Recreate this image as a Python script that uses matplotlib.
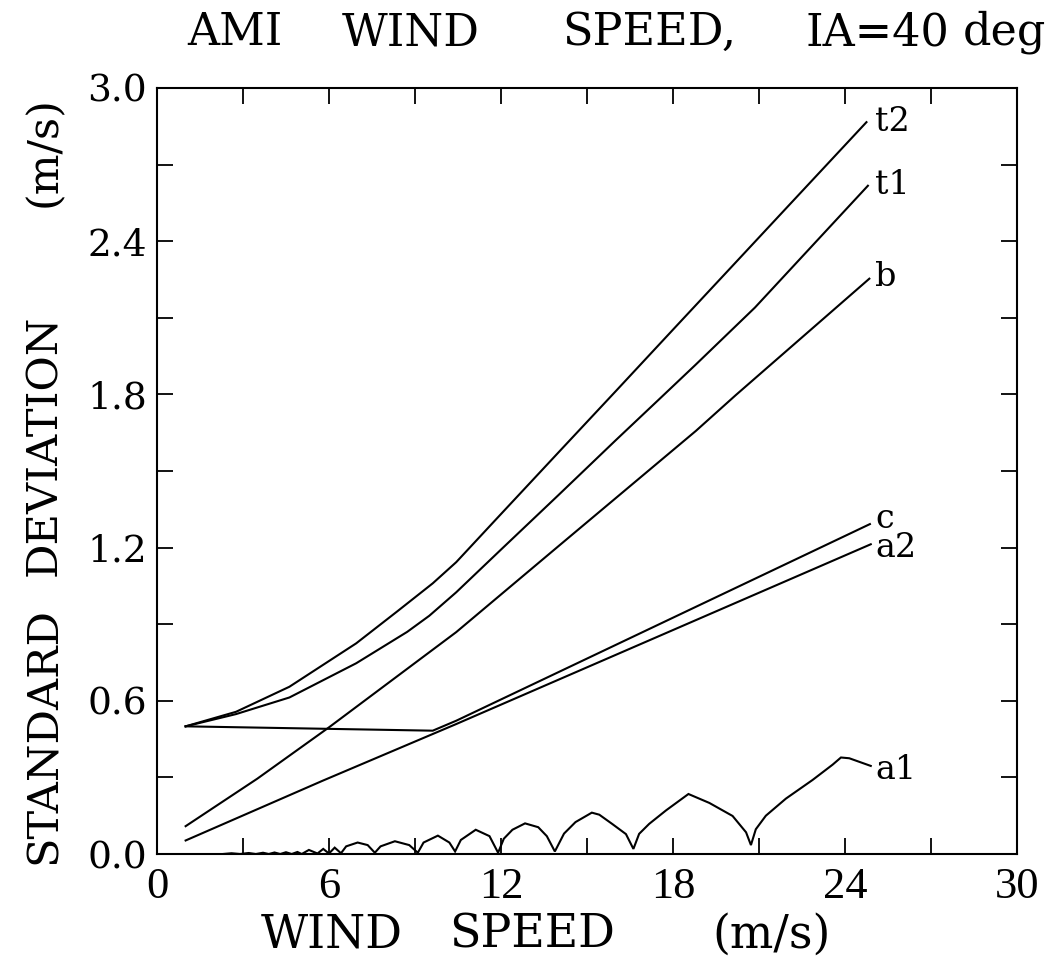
import matplotlib
matplotlib.use('Agg')
import matplotlib.pyplot as plt
from matplotlib.ticker import MultipleLocator

# ---------------- data ----------------
t2_x = [1.0, 2.76, 4.62, 6.95, 8.38, 9.62, 10.44, 11.84, 14.15, 16.0, 18.13, 20.0, 22.0, 24.75]
t2_y = [0.50, 0.557, 0.655, 0.825, 0.95, 1.06, 1.143, 1.312, 1.59, 1.812, 2.069, 2.294, 2.535, 2.866]

t1_x = [1.0, 2.76, 4.62, 6.95, 8.73, 9.5, 10.44, 12.0, 14.0, 16.0, 17.51, 18.78, 20.86, 24.8]
t1_y = [0.50, 0.548, 0.613, 0.747, 0.87, 0.933, 1.025, 1.192, 1.405, 1.62, 1.78, 1.915, 2.14, 2.617]

b_x = [1.0, 3.5, 6.0, 10.44, 14.0, 18.8, 20.19, 24.85]
b_y = [0.109, 0.295, 0.496, 0.869, 1.205, 1.657, 1.797, 2.253]

c_x = [1.0, 9.62, 10.44, 24.87]
c_y = [0.50, 0.483, 0.522, 1.292]

a2_x = [1.0, 5.78, 10.44, 24.9]
a2_y = [0.053, 0.287, 0.509, 1.213]

a1_x = [2.3, 2.6, 2.9, 3.2, 3.45, 3.7, 3.9, 4.1, 4.3, 4.5, 4.7, 4.9, 5.05, 5.3, 5.6,
        5.8, 6.0, 6.2, 6.42, 6.6, 7.0, 7.35, 7.6, 7.8, 8.3, 8.8, 9.1, 9.3, 9.8, 10.2,
        10.4, 10.6, 11.12, 11.6, 11.9, 12.1, 12.4, 12.84, 13.3, 13.6, 13.88, 14.2, 14.6,
        15.17, 15.43, 15.89, 16.36, 16.62, 16.82, 17.17, 17.76, 18.54, 19.27, 20.08,
        20.55, 20.72, 20.89, 21.24, 21.94, 22.87, 23.57, 23.86, 24.15, 24.9]
a1_y = [0.0, 0.003, 0.0, 0.004, 0.0, 0.005, 0.0, 0.006, 0.0, 0.007, 0.0, 0.008, 0.0, 0.016, 0.002,
        0.02, 0.002, 0.025, 0.003, 0.03, 0.045, 0.035, 0.005, 0.03, 0.05, 0.035, 0.005, 0.045, 0.072, 0.045,
        0.01, 0.055, 0.095, 0.07, 0.005, 0.06, 0.095, 0.12, 0.105, 0.07, 0.01, 0.08, 0.125,
        0.162, 0.154, 0.117, 0.078, 0.02, 0.079, 0.118, 0.171, 0.235, 0.20, 0.149,
        0.085, 0.035, 0.097, 0.15, 0.217, 0.29, 0.35, 0.378, 0.375, 0.345]

curve_labels = ['t2', 't1', 'b', 'c', 'a2', 'a1']
label_y = [2.868, 2.62, 2.26, 1.312, 1.198, 0.33]

x_ticklabels = ['0', '6', '12', '18', '24', '30']
y_ticklabels = ['0.0', '0.6', '1.2', '1.8', '2.4', '3.0']

title_words = ['AMI', 'WIND', 'SPEED,', 'IA=40', 'deg']
xlabel_words = ['WIND', 'SPEED', '(m/s)']
ylabel_words = ['STANDARD', 'DEVIATION', '(m/s)']

# ---------------- figure ----------------
fig = plt.figure(figsize=(10.52, 9.6), dpi=100)
ax = fig.add_axes([0.1492, 0.1104, 0.8175, 0.798])

lw = 1.5
for xs, ys in [(t2_x, t2_y), (t1_x, t1_y), (b_x, b_y), (c_x, c_y), (a2_x, a2_y), (a1_x, a1_y)]:
    ax.plot(xs, ys, color='black', lw=lw, solid_joinstyle='miter')

for lab, ly in zip(curve_labels, label_y):
    ax.text(25.05, ly, lab, family='DejaVu Serif', fontsize=24, ha='left', va='center')

ax.set_xlim(0, 30)
ax.set_ylim(0, 3.0)
ax.xaxis.set_minor_locator(MultipleLocator(3))
ax.yaxis.set_minor_locator(MultipleLocator(0.3))
ax.set_xticks([0, 6, 12, 18, 24, 30])
ax.set_xticklabels(x_ticklabels, family='Liberation Serif', fontsize=32)
ax.set_yticks([0.0, 0.6, 1.2, 1.8, 2.4, 3.0])
ax.set_yticklabels(y_ticklabels, family='DejaVu Serif', fontsize=27)
ax.tick_params(which='both', direction='in', length=11.5, width=1.3,
               top=True, right=True, colors='black')
ax.tick_params(axis='x', which='major', pad=9)
ax.tick_params(axis='y', which='major', pad=7)
for s in ax.spines.values():
    s.set_linewidth(1.5)

W, H = 1052.0, 960.0
# title
tfont = dict(family='DejaVu Serif', fontsize=32, va='baseline', ha='left')
for word, px in zip(title_words, [187, 342, 562, 805, 963]):
    fig.text(px / W, 1 - 45 / H, word, **tfont)
# x label
xfont = dict(family='DejaVu Serif', fontsize=33, va='baseline', ha='center')
for word, px in zip(xlabel_words, [332, 532, 772]):
    fig.text(px / W, 1 - 948 / H, word, **xfont)
# y label (rotated)
yfont = dict(family='DejaVu Serif', fontsize=31, rotation=90, ha='center', va='baseline',
             rotation_mode='anchor')
for word, py in zip(ylabel_words, [736, 445, 152]):
    fig.text(56 / W, 1 - py / H, word, **yfont)

fig.savefig('out.png', dpi=100, facecolor='white')
